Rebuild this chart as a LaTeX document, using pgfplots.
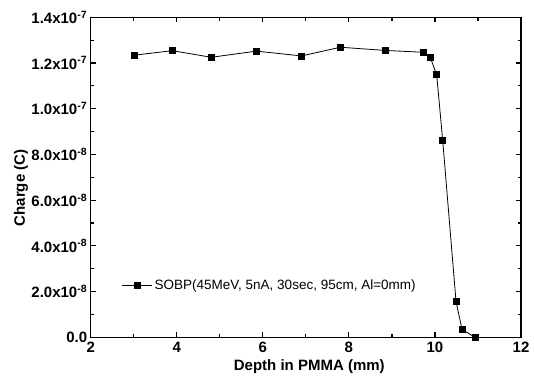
\documentclass[border=0pt]{standalone}
\usepackage{fontspec}
\setmainfont{Liberation Sans}
\usepackage{pgfplots}
\pgfplotsset{compat=1.18}
\begin{document}
\begin{tikzpicture}[x=1pt,y=1pt]
\path[use as bounding box] (-90.7,-48.7) rectangle (443.3,337.3);
\begin{axis}[
  at={(0pt,0pt)}, anchor=south west,
  scale only axis, width=430.3pt, height=320pt,
  xmin=2, xmax=12, ymin=0, ymax=1.4e-7,
  xtick={2,4,6,8,10,12}, xticklabels={2,4,6,8,10,12},
  minor x tick num=1,
  ytick={0,2e-8,4e-8,6e-8,8e-8,1e-7,1.2e-7,1.4e-7},
  yticklabels={0.0,
    2.0x10\textsuperscript{-8},
    4.0x10\textsuperscript{-8},
    6.0x10\textsuperscript{-8},
    8.0x10\textsuperscript{-8},
    1.0x10\textsuperscript{-7},
    1.2x10\textsuperscript{-7},
    1.4x10\textsuperscript{-7}},
  minor y tick num=1,
  scaled y ticks=false,
  tick align=inside,
  major tick length=5pt, minor tick length=3.5pt,
  axis line style={line width=1.5pt},
  every tick/.style={black, line width=1.2pt},
  ticklabel style={font=\fontsize{15}{18}\selectfont\bfseries},
  xticklabel style={yshift=-1pt},
  xlabel={Depth in PMMA (mm)},
  ylabel={Charge (C)},
  label style={font=\fontsize{15}{18}\selectfont\bfseries},
  xlabel style={at={(axis description cs:0.508,-0.093)}, anchor=center},
  ylabel style={at={(axis description cs:-0.162,0.467)}, anchor=center},
  legend style={at={(axis description cs:0.072,0.163)}, anchor=west, draw=none, fill=none,
    font=\fontsize{13.5}{16}\selectfont, inner sep=0pt},
  legend cell align=left,
  legend image code/.code={%
    \draw[#1, mark repeat=2, mark phase=2] plot coordinates {(0pt,0pt) (15pt,0pt) (30pt,0pt)};},
]
\addplot[black, line width=0.8pt, mark=square*, mark size=3pt,
  mark options={solid, fill=black, line width=0.4pt}] coordinates {
  (3.0, 1.234e-7) (3.9, 1.254e-7) (4.8, 1.225e-7) (5.85, 1.252e-7)
  (6.9, 1.231e-7) (7.8, 1.269e-7) (8.85, 1.255e-7) (9.73, 1.247e-7)
  (9.89, 1.225e-7) (10.04, 1.149e-7) (10.18, 0.862e-7) (10.49, 1.56e-8)
  (10.63, 3.5e-9) (10.93, 0)
};
\addlegendentry{SOBP(45MeV, 5nA, 30sec, 95cm, Al=0mm)}
\end{axis}
\end{tikzpicture}
\end{document}
